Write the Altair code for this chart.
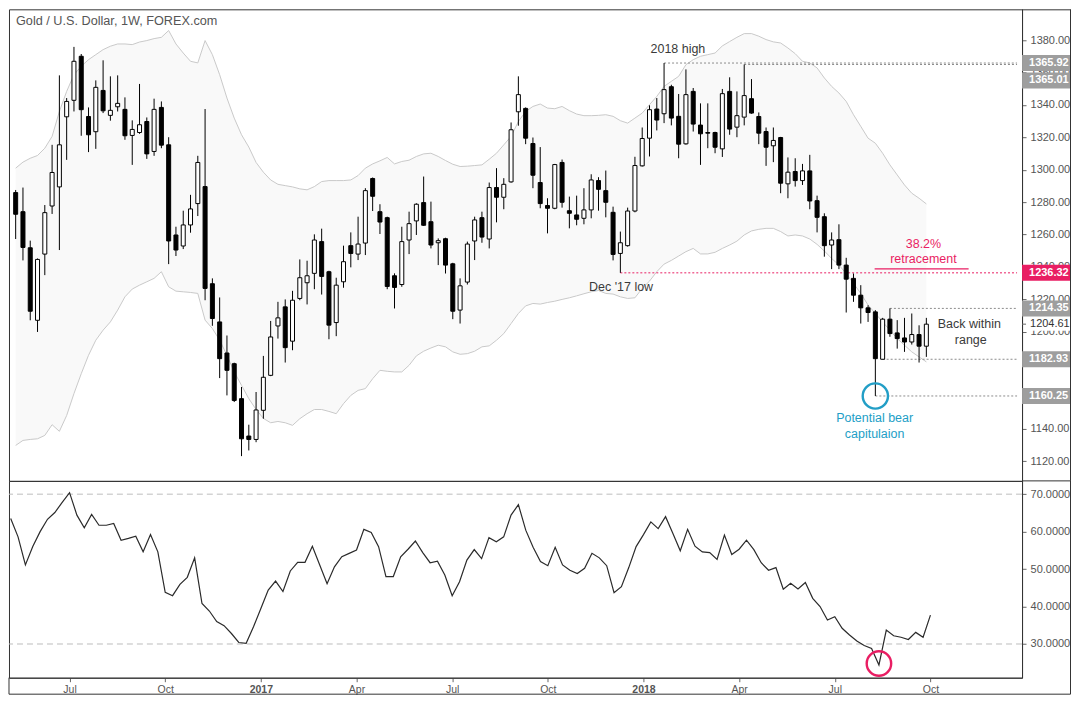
import altair as alt
import pandas as pd

# ---------------- data ----------------
START_WEEK = "2016-05-09"

opens = [1285.9, 1274.1, 1251.8, 1207.0, 1247.9, 1277.6, 1289.4, 1332.7, 1342.9, 1370.1,
         1332.9, 1323.5, 1349.0, 1333.6, 1338.9, 1337.3, 1321.2, 1323.0, 1329.8, 1311.3,
         1338.5, 1315.4, 1259.7, 1252.9, 1265.9, 1279.1, 1289.6, 1229.6, 1206.0, 1186.8,
         1180.2, 1158.6, 1135.5, 1133.4, 1151.4, 1173.0, 1203.5, 1215.3, 1194.1, 1220.5,
         1230.2, 1236.0, 1255.6, 1237.0, 1205.6, 1230.8, 1253.1, 1247.9, 1254.7, 1294.6,
         1274.1, 1270.4, 1234.5, 1229.1, 1256.6, 1268.4, 1279.7, 1267.9, 1254.9, 1257.4,
         1241.9, 1213.3, 1230.6, 1256.0, 1270.4, 1257.2, 1289.0, 1283.0, 1292.5, 1335.8,
         1337.9, 1316.2, 1292.1, 1277.9, 1276.2, 1304.5, 1274.7, 1272.1, 1270.0, 1275.2,
         1293.3, 1287.1, 1273.7, 1248.3, 1253.1, 1274.5, 1302.4, 1319.5, 1337.5, 1334.6,
         1351.3, 1333.0, 1316.0, 1348.4, 1327.6, 1323.0, 1323.0, 1312.9, 1348.4, 1326.3,
         1332.5, 1343.9, 1332.9, 1323.6, 1314.8, 1319.9, 1291.3, 1298.9, 1293.3, 1299.3,
         1280.9, 1271.0, 1253.5, 1256.8, 1241.1, 1232.9, 1222.5, 1214.7, 1212.2, 1182.93,
         1207.7, 1199.2, 1196.1, 1193.6, 1198.2, 1191.0]

highs = [1287.5, 1289.0, 1256.2, 1245.2, 1278.2, 1315.4, 1358.3, 1344.3, 1375.9, 1371.5,
         1338.5, 1355.2, 1367.6, 1357.7, 1358.3, 1344.7, 1330.5, 1353.0, 1332.3, 1343.9,
         1342.2, 1320.1, 1264.8, 1274.7, 1284.5, 1308.6, 1337.5, 1232.9, 1221.1, 1197.6,
         1180.8, 1165.8, 1142.5, 1162.7, 1185.0, 1206.6, 1218.4, 1219.9, 1225.2, 1244.6,
         1243.8, 1260.1, 1263.6, 1237.6, 1233.3, 1253.1, 1261.3, 1271.0, 1288.6, 1295.2,
         1278.7, 1271.0, 1236.0, 1264.8, 1274.1, 1279.3, 1295.8, 1280.3, 1257.6, 1258.0,
         1242.5, 1232.9, 1255.6, 1271.0, 1274.1, 1292.1, 1301.0, 1294.8, 1329.2, 1357.7,
         1338.5, 1319.9, 1314.0, 1282.4, 1303.6, 1306.3, 1283.4, 1284.0, 1288.6, 1297.2,
         1295.4, 1299.5, 1277.2, 1261.8, 1276.6, 1308.0, 1326.1, 1339.8, 1344.3, 1365.92,
         1352.5, 1346.8, 1362.0, 1350.5, 1341.0, 1341.0, 1323.5, 1349.9, 1357.1, 1348.4,
         1365.01, 1356.0, 1335.4, 1326.1, 1326.1, 1320.3, 1307.6, 1307.1, 1303.6, 1309.2,
         1284.0, 1273.1, 1261.3, 1266.3, 1245.6, 1235.9, 1228.7, 1216.3, 1213.3, 1208.5,
         1214.35, 1207.1, 1208.5, 1211.2, 1203.9, 1208.5]

lows = [1257.2, 1244.0, 1207.0, 1199.8, 1234.9, 1272.7, 1250.4, 1306.1, 1336.0, 1321.0,
        1310.9, 1312.9, 1335.0, 1330.3, 1336.0, 1318.5, 1303.0, 1322.2, 1306.7, 1308.6,
        1313.3, 1241.7, 1246.7, 1251.0, 1261.1, 1271.4, 1219.4, 1203.6, 1171.3, 1160.6,
        1156.5, 1123.1, 1126.6, 1131.7, 1146.2, 1172.5, 1195.7, 1180.9, 1188.5, 1219.4,
        1216.8, 1226.2, 1222.9, 1195.3, 1197.2, 1227.1, 1239.7, 1244.2, 1247.3, 1274.5,
        1260.3, 1226.2, 1214.3, 1227.7, 1247.9, 1259.7, 1265.3, 1251.4, 1241.1, 1235.9,
        1207.7, 1205.0, 1229.1, 1244.2, 1254.9, 1251.4, 1267.5, 1275.6, 1292.0, 1327.2,
        1315.8, 1288.6, 1276.2, 1260.7, 1275.6, 1276.6, 1263.8, 1265.7, 1266.3, 1270.0,
        1274.7, 1270.6, 1244.0, 1236.32, 1252.5, 1273.7, 1302.0, 1308.2, 1324.3, 1328.8,
        1327.4, 1307.1, 1315.5, 1323.6, 1303.0, 1313.3, 1310.2, 1307.9, 1321.6, 1320.1,
        1327.4, 1334.6, 1315.8, 1302.4, 1304.7, 1285.5, 1282.4, 1289.6, 1290.6, 1275.6,
        1261.3, 1246.3, 1238.6, 1238.6, 1211.8, 1218.4, 1205.0, 1206.0, 1160.25, 1182.93,
        1196.8, 1189.5, 1187.5, 1192.0, 1180.9, 1184.4]

closes = [1272.5, 1252.0, 1212.6, 1244.6, 1273.5, 1298.3, 1315.4, 1342.2, 1367.0, 1337.1,
          1321.6, 1350.9, 1336.4, 1336.7, 1341.0, 1321.0, 1324.9, 1327.8, 1309.8, 1337.3,
          1315.2, 1256.0, 1250.4, 1265.9, 1275.8, 1304.5, 1226.7, 1208.1, 1183.3, 1176.1,
          1157.5, 1133.8, 1133.4, 1151.6, 1171.8, 1196.7, 1208.5, 1190.1, 1219.4, 1233.3,
          1234.5, 1256.6, 1234.1, 1204.0, 1228.7, 1243.2, 1248.3, 1254.1, 1287.1, 1283.6,
          1267.7, 1227.9, 1227.3, 1255.6, 1266.7, 1278.7, 1265.7, 1253.5, 1256.2, 1241.1,
          1212.6, 1228.3, 1254.1, 1269.0, 1258.4, 1289.0, 1283.0, 1291.0, 1324.7, 1346.4,
          1319.5, 1296.6, 1279.1, 1276.2, 1303.2, 1279.9, 1273.1, 1269.4, 1275.2, 1293.7,
          1287.9, 1279.9, 1247.7, 1254.9, 1274.5, 1302.6, 1319.3, 1337.1, 1330.7, 1349.5,
          1331.9, 1315.8, 1346.4, 1328.2, 1322.2, 1322.6, 1313.9, 1347.0, 1325.1, 1333.4,
          1345.8, 1335.0, 1322.6, 1313.9, 1318.1, 1291.7, 1298.5, 1293.3, 1299.3, 1280.7,
          1270.6, 1253.1, 1256.6, 1241.1, 1232.4, 1222.5, 1214.7, 1211.8, 1183.3, 1207.7,
          1198.8, 1195.7, 1193.6, 1198.2, 1191.0, 1204.61]

bb_upper = [1301.0, 1304.7, 1307.1, 1308.8, 1313.3, 1320.6, 1336.0, 1348.4, 1358.7, 1363.9,
            1368.0, 1371.1, 1374.2, 1376.3, 1377.7, 1377.7, 1377.3, 1378.9, 1379.8, 1381.0,
            1381.8, 1386.0, 1377.7, 1372.1, 1367.0, 1366.0, 1379.8, 1371.1, 1358.7, 1344.3,
            1331.9, 1321.6, 1314.0, 1304.5, 1298.5, 1293.7, 1291.0, 1290.2, 1289.4, 1288.2,
            1287.6, 1289.6, 1292.7, 1293.3, 1293.3, 1293.3, 1293.7, 1296.4, 1301.0, 1303.6,
            1305.5, 1307.6, 1303.6, 1305.1, 1305.9, 1308.2, 1309.8, 1310.2, 1308.2, 1305.7,
            1303.4, 1302.0, 1302.2, 1302.6, 1303.0, 1306.5, 1310.2, 1315.4, 1320.6, 1329.8,
            1336.0, 1339.1, 1340.6, 1338.1, 1337.7, 1339.1, 1336.5, 1334.4, 1333.4, 1333.4,
            1333.6, 1334.0, 1333.0, 1330.3, 1328.8, 1331.9, 1335.0, 1340.2, 1345.3, 1351.5,
            1354.6, 1357.7, 1364.9, 1368.0, 1370.1, 1371.1, 1372.1, 1376.5, 1379.2, 1381.8,
            1384.1, 1384.1, 1382.5, 1380.4, 1379.0, 1378.3, 1375.2, 1371.7, 1367.0, 1366.0,
            1362.9, 1356.7, 1351.5, 1347.4, 1342.2, 1334.0, 1326.8, 1319.5, 1316.4, 1310.2,
            1303.0, 1296.8, 1290.6, 1285.5, 1282.4, 1278.9]

bb_lower = [1129.7, 1132.8, 1133.4, 1133.8, 1135.9, 1142.5, 1138.4, 1148.2, 1161.7, 1174.0,
            1185.4, 1194.7, 1200.9, 1206.0, 1213.3, 1221.5, 1226.3, 1228.7, 1230.8, 1232.9,
            1237.0, 1227.7, 1225.0, 1224.6, 1224.2, 1223.6, 1207.1, 1201.9, 1194.7, 1185.4,
            1175.1, 1166.8, 1158.6, 1151.9, 1146.4, 1143.7, 1144.5, 1143.7, 1142.1, 1146.2,
            1149.3, 1151.9, 1151.9, 1150.7, 1149.3, 1155.5, 1160.6, 1163.7, 1164.8, 1170.9,
            1176.1, 1175.5, 1175.1, 1175.1, 1179.2, 1185.0, 1187.9, 1189.9, 1191.6, 1190.6,
            1187.5, 1186.0, 1186.4, 1187.9, 1190.6, 1191.2, 1194.7, 1198.8, 1205.0, 1211.2,
            1215.9, 1217.4, 1217.0, 1218.0, 1218.8, 1219.9, 1220.9, 1222.1, 1223.4, 1224.6,
            1225.4, 1223.6, 1223.2, 1221.5, 1220.5, 1220.9, 1226.7, 1231.2, 1237.0, 1241.7,
            1244.0, 1246.7, 1249.4, 1251.4, 1248.0, 1248.0, 1249.0, 1251.4, 1253.5, 1255.9,
            1259.7, 1262.2, 1263.2, 1263.8, 1263.8, 1261.8, 1259.1, 1259.7, 1259.1, 1257.2,
            1253.9, 1249.8, 1245.2, 1241.1, 1235.9, 1229.8, 1223.6, 1216.4, 1211.2, 1206.0,
            1200.9, 1195.7, 1191.6, 1187.5, 1184.4, 1181.3]

rsi = [63.5, 58.6, 51.1, 56.0, 60.0, 63.3, 65.1, 67.8, 70.4, 64.4,
       61.0, 64.6, 61.7, 61.7, 62.2, 57.7, 58.2, 58.8, 54.6, 59.2,
       54.6, 43.8, 42.9, 45.9, 47.8, 53.0, 40.8, 38.8, 36.0, 34.9,
       32.8, 30.4, 30.2, 34.6, 39.5, 44.4, 46.8, 44.0, 49.5, 51.8,
       51.8, 56.1, 51.1, 46.1, 50.6, 53.3, 54.2, 55.1, 60.6, 59.8,
       56.0, 48.0, 48.0, 53.3, 55.3, 57.5, 54.4, 51.7, 52.1, 48.4,
       42.9, 46.6, 52.4, 55.2, 52.8, 58.4, 57.3, 58.6, 64.4, 67.2,
       60.4, 55.8, 52.0, 50.9, 55.8, 51.1, 49.7, 48.8, 50.2, 54.2,
       53.0, 50.9, 43.7, 45.3, 50.4, 56.0, 59.2, 62.6, 60.8, 64.0,
       59.5, 54.9, 60.6, 56.1, 54.6, 54.4, 52.6, 59.1, 53.9, 55.3,
       57.7, 55.2, 51.7, 49.7, 50.4, 44.6, 46.2, 44.7, 46.4, 42.2,
       40.0, 36.4, 37.3, 34.2, 32.4, 30.8, 29.6, 28.8, 24.4, 33.7,
       32.2, 31.8, 31.2, 33.1, 31.8, 37.7]

tick_dates = ["2016-07-04", "2016-10-03", "2017-01-02", "2017-04-03", "2017-07-03",
              "2017-10-02", "2018-01-01", "2018-04-02", "2018-07-02", "2018-10-01"]
tick_labels = ["Jul", "Oct", "2017", "Apr", "Jul", "Oct", "2018", "Apr", "Jul", "Oct"]

level_prices = [1365.92, 1365.01, 1236.32, 1214.35, 1182.93, 1160.25]
level_from = ["2018-01-22", "2018-04-09", "2017-12-11", "2018-08-27", "2018-08-20", "2018-08-13"]
level_kind = ["grey", "grey", "pink", "grey", "grey", "grey"]

last_price = 1204.61
rsi_levels = [70, 30]

ann_text = ["2018 high", "Dec '17 low", "38.2%", "retracement", "Back within", "range",
            "Potential bear", "capitulaion"]
ann_bar = [90.9, 83.1, 124.6, 124.6, 130.9, 131.1, 117.9, 117.9]
ann_price = [1374.6, 1227.7, 1254.3, 1245.0, 1204.5, 1194.8, 1146.5, 1137.0]
ann_kind = ["dark", "dark", "pink", "pink", "dark", "dark", "blue", "blue"]

TITLE = "Gold / U.S. Dollar, 1W, FOREX.com"

# ---------------- styling / layout ----------------
PINK = "#e91e63"
BLUE = "#229ec6"
GREY_BOX = "#9e9e9e"
TEXT = "#555555"
FONT = "Liberation Sans"
W = 1014
H_TOP = 472
H_BOT = 197
RIGHT = W + 48.5
X_DOMAIN = [-0.23, 137.45]
P_DOMAIN = [1107.8, 1399.1]
R_DOMAIN = [21.0, 73.55]
kind_color = {"grey": "#8c8c8c", "pink": PINK, "dark": "#3a3a3a", "blue": BLUE}

dates = pd.date_range(START_WEEK, periods=len(opens), freq="7D")
idx_of = {d.strftime("%Y-%m-%d"): i for i, d in enumerate(dates)}

df = pd.DataFrame({
    "i": list(range(len(opens))), "open": opens, "high": highs, "low": lows,
    "close": closes, "bb_up": bb_upper, "bb_lo": bb_lower, "rsi": rsi,
})
df["up"] = df["close"] >= df["open"]

xs = alt.Scale(domain=X_DOMAIN, nice=False, zero=False)
ps = alt.Scale(domain=P_DOMAIN, nice=False, zero=False)
rs = alt.Scale(domain=R_DOMAIN, nice=False, zero=False)

price_axis = alt.Axis(orient="right", values=list(range(1120, 1400, 20)), format=".2f",
                      title=None, grid=False, labelColor=TEXT, labelFontSize=11,
                      labelFont=FONT, tickColor="#666", tickSize=4, labelPadding=4,
                      domainColor="#333", labelOverlap=False, labelFlush=False)
rsi_axis = alt.Axis(orient="right", values=[30, 40, 50, 60, 70], format=".4f",
                    title=None, grid=False, labelColor=TEXT, labelFontSize=11,
                    labelFont=FONT, tickColor="#666", tickSize=4, labelPadding=4,
                    domainColor="#333", labelOverlap=False, labelFlush=False)

tick_idx = [idx_of[d] for d in tick_dates]
label_expr = "".join(f"datum.value == {v} ? '{lab}' : " for v, lab in zip(tick_idx, tick_labels)) + "''"
bold_test = " || ".join(f"datum.value == {v}" for v, lab in zip(tick_idx, tick_labels) if lab.isdigit())
x_axis = alt.Axis(orient="bottom", values=tick_idx, labelExpr=label_expr, title=None,
                  grid=False, tickSize=4, labelColor=TEXT, labelFontSize=10.5, labelFont=FONT,
                  labelPadding=3, domainColor="#333", tickColor="#666", labelFlush=False,
                  labelOverlap=False,
                  labelFontWeight={"condition": {"test": bold_test, "value": "bold"}, "value": "normal"})

X = alt.X("i:Q", scale=xs, axis=None)
def PY(field):
    return alt.Y(f"{field}:Q", scale=ps, axis=price_axis)

base = alt.Chart(df)

band = base.mark_area(color="#f9f9f9", clip=True).encode(X, y=PY("bb_up"), y2="bb_lo:Q")
band_up = base.mark_line(color="#c9c9c9", strokeWidth=1, clip=True).encode(X, y=PY("bb_up"))
band_lo = base.mark_line(color="#c9c9c9", strokeWidth=1, clip=True).encode(X, y=PY("bb_lo"))

lv = pd.DataFrame({
    "price": level_prices,
    "start": [idx_of[d] for d in level_from],
    "end": [X_DOMAIN[1]] * len(level_prices),
    "col": [kind_color[k] for k in level_kind],
    "box": [PINK if k == "pink" else GREY_BOX for k in level_kind],
    "label": [f"{p:.2f}" for p in level_prices],
})
levels = alt.Chart(lv).mark_rule(strokeDash=[2, 2], strokeWidth=1).encode(
    x=alt.X("start:Q", scale=xs, axis=None), x2="end:Q", y=PY("price"),
    color=alt.Color("col:N", scale=None))

wicks = base.mark_rule(color="black", strokeWidth=1, clip=True).encode(X, y=PY("low"), y2="high:Q")
bodies = base.mark_bar(width=4, stroke="black", strokeWidth=1, clip=True).encode(
    X, y=PY("open"), y2="close:Q",
    fill=alt.condition("datum.up", alt.value("white"), alt.value("black")))

ann = pd.DataFrame({"t": ann_text, "i": ann_bar, "price": ann_price,
                    "col": [kind_color[k] for k in ann_kind]})
notes = alt.Chart(ann).mark_text(font=FONT, fontSize=12.5, align="center", baseline="middle").encode(
    x=alt.X("i:Q", scale=xs, axis=None), y=PY("price"), text="t:N",
    color=alt.Color("col:N", scale=None))

under = alt.Chart(pd.DataFrame({"a": [117.9], "b": [130.8], "p": [1238.8]})).mark_rule(
    color=PINK, strokeWidth=1.2).encode(x=alt.X("a:Q", scale=xs, axis=None), x2="b:Q", y=PY("p"))

low_i = idx_of["2018-08-13"]
low_circle = alt.Chart(pd.DataFrame({"i": [low_i], "p": [lows[low_i]]})).mark_point(
    shape="circle", size=640, filled=False, strokeWidth=2.4, color=BLUE, opacity=1).encode(
    x=alt.X("i:Q", scale=xs, axis=None), y=PY("p"))

title = alt.Chart(pd.DataFrame({"t": [TITLE]})).mark_text(
    font=FONT, fontSize=12.7, color=TEXT, align="left", baseline="middle").encode(
    x=alt.value(7), y=alt.value(12), text="t:N")

lv_main = lv[lv["price"] != 1365.01]
lv_shift = lv[lv["price"] == 1365.01]
box_main = alt.Chart(lv_main).mark_rect(yOffset=-8, y2Offset=8, clip=False).encode(
    x=alt.value(W), x2=alt.value(W + 48), y=PY("price"), y2="price:Q",
    color=alt.Color("box:N", scale=None))
txt_main = alt.Chart(lv_main).mark_text(font=FONT, fontSize=11, fontWeight="bold", color="white",
                                         align="left", baseline="middle", clip=False).encode(
    x=alt.value(W + 7), y=PY("price"), text="label:N")
box_shift = alt.Chart(lv_shift).mark_rect(yOffset=8, y2Offset=24, clip=False).encode(
    x=alt.value(W), x2=alt.value(W + 48), y=PY("price"), y2="price:Q",
    color=alt.Color("box:N", scale=None))
txt_shift = alt.Chart(lv_shift).mark_text(font=FONT, fontSize=11, fontWeight="bold", color="white",
                                           align="left", baseline="middle", clip=False, yOffset=16).encode(
    x=alt.value(W + 7), y=PY("price"), text="label:N")

lp = pd.DataFrame({"p": [last_price], "t": [f"{last_price:.2f}"]})
last_box = alt.Chart(lp).mark_rect(yOffset=-6.5, y2Offset=6.5, color="white", clip=False).encode(
    x=alt.value(W + 5), x2=alt.value(W + 48), y=PY("p"), y2="p:Q")
last_tick = alt.Chart(lp).mark_rule(strokeWidth=1, color="#666", clip=False).encode(
    x=alt.value(W), x2=alt.value(W + 4), y=PY("p"))
last_txt = alt.Chart(lp).mark_text(font=FONT, fontSize=11, color="#333", align="left",
                                   baseline="middle", clip=False).encode(
    x=alt.value(W + 8), y=PY("p"), text="t:N")

frame = pd.DataFrame({"a": [0]})
top_frame_r = alt.Chart(frame).mark_rule(color="#333", clip=False).encode(
    x=alt.value(RIGHT), y=alt.value(0), y2=alt.value(H_TOP))
top_frame_t = alt.Chart(frame).mark_rule(color="#333", clip=False).encode(
    x=alt.value(W), x2=alt.value(RIGHT), y=alt.value(0.5))
top_frame_b = alt.Chart(frame).mark_rule(color="#333", clip=False).encode(
    x=alt.value(W), x2=alt.value(RIGHT), y=alt.value(H_TOP))

top = alt.layer(band, band_up, band_lo, levels, wicks, bodies, under, notes, low_circle, title,
                last_box, last_tick, last_txt, box_main, txt_main, box_shift, txt_shift,
                top_frame_r, top_frame_t, top_frame_b).properties(width=W, height=H_TOP)

# ---------------- RSI panel ----------------
XB = alt.X("i:Q", scale=xs, axis=x_axis)
rsi_lv = alt.Chart(pd.DataFrame({"lvl": rsi_levels})).mark_rule(
    strokeDash=[6, 4], color="#bdbdbd", strokeWidth=1).encode(
    y=alt.Y("lvl:Q", scale=rs, axis=rsi_axis))
rsi_line = base.mark_line(color="#2b2b2b", strokeWidth=1.2, clip=True).encode(
    XB, y=alt.Y("rsi:Q", scale=rs, axis=rsi_axis))
rsi_circle = alt.Chart(pd.DataFrame({"i": [low_i], "r": [24.8]})).mark_point(
    shape="circle", size=600, filled=False, strokeWidth=2.4, color=PINK, opacity=1).encode(
    x=alt.X("i:Q", scale=xs, axis=x_axis), y=alt.Y("r:Q", scale=rs, axis=rsi_axis))

FB = H_BOT + 16.5
bot_frame_r = alt.Chart(frame).mark_rule(color="#333", clip=False).encode(
    x=alt.value(RIGHT), y=alt.value(0), y2=alt.value(FB))
bot_frame_b = alt.Chart(frame).mark_rule(color="#333", clip=False).encode(
    x=alt.value(0), x2=alt.value(RIGHT), y=alt.value(FB))
bot_frame_l = alt.Chart(frame).mark_rule(color="#333", clip=False).encode(
    x=alt.value(0), y=alt.value(H_BOT), y2=alt.value(FB))

bottom = alt.layer(rsi_lv, rsi_line, rsi_circle, bot_frame_r, bot_frame_b, bot_frame_l).properties(
    width=W, height=H_BOT)

chart = alt.vconcat(top, bottom, spacing=0, bounds="flush").properties(
    padding={"left": 0, "top": 0, "right": 0, "bottom": 0}
).configure(background="white", font=FONT).configure_view(stroke="#333", strokeWidth=1)

chart.save("out.html", embed_options={"renderer": "svg", "actions": False})
